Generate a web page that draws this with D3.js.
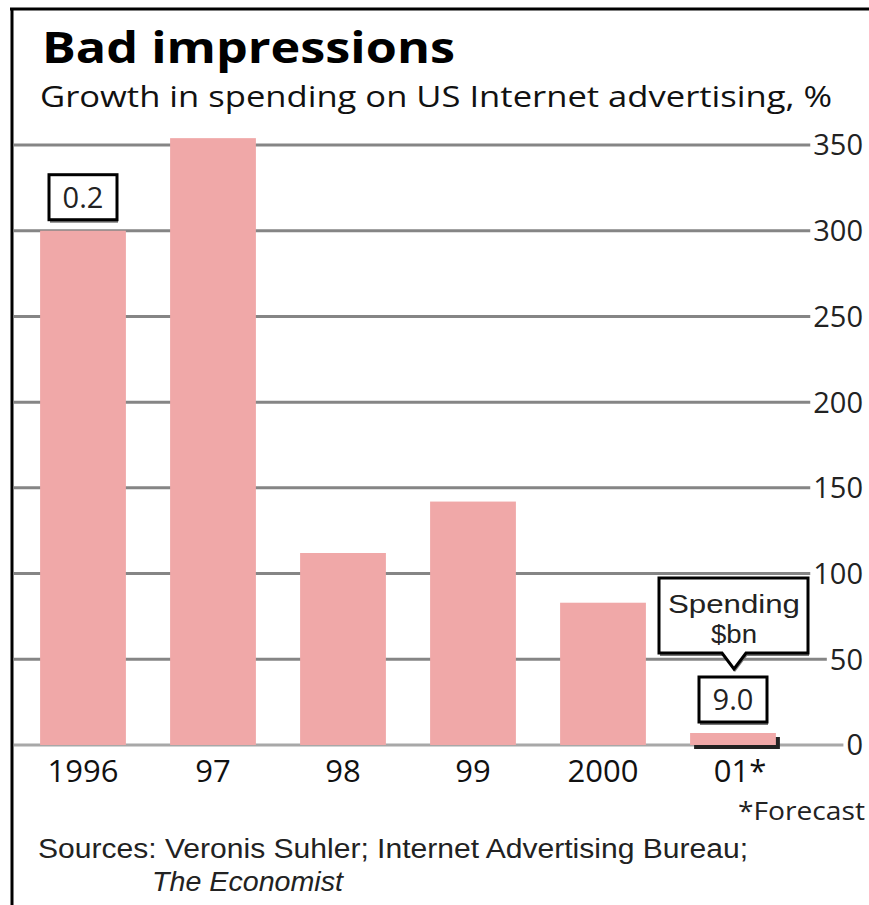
<!DOCTYPE html>
<html>
<head>
<meta charset="utf-8">
<script src="https://cdn.jsdelivr.net/npm/d3@7"></script>
<style>
  body { margin: 0; background: #fff; }
  svg { display: block; font-family: "Open Sans", sans-serif; }
</style>
</head>
<body>
<svg id="chart"></svg>
<script>
// Data
const years = ["1996", "97", "98", "99", "2000", "01*"];
const growth = [300, 354, 112, 142, 83, 7];
const yTicks = [0, 50, 100, 150, 200, 250, 300, 350];
const spendingYears = ["1996", "01*"];
const spendingValues = ["0.2", "9.0"];

const width = 869;
const height = 905;
const barColor = "#f0a8a8";
const tightFont = "'Liberation Sans', Arial, sans-serif";

const svg = d3.select("#chart")
  .attr("width", width)
  .attr("height", height);

svg.append("rect")
  .attr("width", width)
  .attr("height", height)
  .attr("fill", "#fff");

// Frame lines (top and left)
svg.append("line")
  .attr("x1", 10).attr("x2", width)
  .attr("y1", 9).attr("y2", 9)
  .attr("stroke", "#000").attr("stroke-width", 3);
svg.append("line")
  .attr("x1", 12).attr("x2", 12)
  .attr("y1", 8).attr("y2", height)
  .attr("stroke", "#000").attr("stroke-width", 3);

// Helper to squeeze text to a measured width
function fitText(sel, w) {
  sel.attr("textLength", w).attr("lengthAdjust", "spacingAndGlyphs");
}

// Titles
svg.append("text")
  .attr("x", 42).attr("y", 63)
  .attr("font-size", 43).attr("font-weight", 700)
  .attr("fill", "#000")
  .text("Bad impressions")
  .call(fitText, 413);

svg.append("text")
  .attr("x", 40).attr("y", 107)
  .attr("font-size", 30)
  .attr("fill", "#111")
  .text("Growth in spending on US Internet advertising, %")
  .call(fitText, 792);

// Scales
const x = d3.scaleBand()
  .domain(years)
  .range([18, 798])
  .paddingInner(0.34)
  .paddingOuter(0.17);

const y = d3.scaleLinear()
  .domain([0, 350])
  .range([745, 145]);

// Gridlines and right-hand tick labels
const labelRight = 863;
const grid = svg.append("g");
yTicks.forEach(t => {
  const lbl = grid.append("text")
    .attr("x", labelRight)
    .attr("y", y(t))
    .attr("dy", "0.36em")
    .attr("text-anchor", "end")
    .attr("font-size", 29)
    .attr("fill", "#222")
    .text(t);
  const w = lbl.node().getComputedTextLength();
  grid.insert("line", "text")
    .attr("x1", 14)
    .attr("x2", labelRight - w - 3)
    .attr("y1", y(t)).attr("y2", y(t))
    .attr("stroke", t === 0 ? "#a8a8a8" : "#858585")
    .attr("stroke-width", 3);
});

// Shadow for the forecast bar
const last = years[years.length - 1];
const lastVal = growth[growth.length - 1];
svg.append("rect")
  .attr("x", x(last) + 4)
  .attr("y", y(lastVal) + 4)
  .attr("width", x.bandwidth())
  .attr("height", y(0) - y(lastVal))
  .attr("fill", "#222");

// Bars
svg.append("g")
  .selectAll("rect")
  .data(years)
  .join("rect")
  .attr("x", d => x(d))
  .attr("y", (d, i) => y(growth[i]))
  .attr("width", x.bandwidth())
  .attr("height", (d, i) => y(0) - y(growth[i]))
  .attr("fill", barColor);

// X-axis labels ("01" stays centred, asterisk hangs right)
svg.append("g")
  .selectAll("text")
  .data(years)
  .join("text")
  .attr("x", d => x(d) + x.bandwidth() / 2)
  .attr("dx", d => d.endsWith("*") ? 7 : 0)
  .attr("y", 782)
  .attr("text-anchor", "middle")
  .attr("font-size", 31)
  .attr("fill", "#111")
  .text(d => d);

// Spending value boxes
function valueBox(g, cx, bottom, label) {
  const w = 68, h = 45;
  g.append("rect")
    .attr("x", cx - w / 2 + 1).attr("y", bottom - h + 3)
    .attr("width", w).attr("height", h)
    .attr("fill", "#777");
  g.append("rect")
    .attr("x", cx - w / 2).attr("y", bottom - h)
    .attr("width", w).attr("height", h)
    .attr("fill", "#fff")
    .attr("stroke", "#000").attr("stroke-width", 3);
  g.append("text")
    .attr("x", cx).attr("y", bottom - h / 2)
    .attr("dy", "0.36em")
    .attr("text-anchor", "middle")
    .attr("font-size", 29)
    .attr("fill", "#222")
    .text(label);
}

const boxes = svg.append("g");
spendingYears.forEach((yr, i) => {
  const idx = years.indexOf(yr);
  const cx = x(yr) + x.bandwidth() / 2;
  valueBox(boxes, cx, y(growth[idx]) - 11, spendingValues[i]);
});

// "Spending $bn" callout above the forecast bar
const cxLast = x(last) + x.bandwidth() / 2;
const cTop = 578, cBot = 653, cL = cxLast - 74, cR = cxLast + 75;
const calloutPath = `M${cL},${cTop} H${cR} V${cBot} H${cxLast + 13} L${cxLast + 1},${cBot + 16} L${cxLast - 11},${cBot} H${cL} Z`;
svg.append("path")
  .attr("d", calloutPath)
  .attr("transform", "translate(1,3)")
  .attr("fill", "#777");
svg.append("path")
  .attr("d", calloutPath)
  .attr("fill", "#fff")
  .attr("stroke", "#000")
  .attr("stroke-width", 3)
  .attr("stroke-linejoin", "miter");
svg.append("text")
  .attr("x", cxLast + 1).attr("y", 613)
  .attr("text-anchor", "middle")
  .attr("font-family", tightFont)
  .attr("font-size", 26)
  .attr("fill", "#222")
  .text("Spending")
  .call(fitText, 132);
svg.append("text")
  .attr("x", cxLast + 1).attr("y", 643)
  .attr("text-anchor", "middle")
  .attr("font-family", tightFont)
  .attr("font-size", 26)
  .attr("fill", "#222")
  .text("$bn")
  .call(fitText, 46);

// Footnotes
svg.append("text")
  .attr("x", 865).attr("y", 820)
  .attr("text-anchor", "end")
  .attr("font-size", 26)
  .attr("fill", "#222")
  .text("*Forecast")
  .call(fitText, 127);

svg.append("text")
  .attr("x", 38).attr("y", 858)
  .attr("font-family", tightFont)
  .attr("font-size", 27)
  .attr("fill", "#222")
  .text("Sources: Veronis Suhler; Internet Advertising Bureau;")
  .call(fitText, 710);

svg.append("text")
  .attr("x", 152).attr("y", 891)
  .attr("font-family", tightFont)
  .attr("font-size", 27)
  .attr("font-style", "italic")
  .attr("fill", "#222")
  .text("The Economist")
  .call(fitText, 191);
</script>
</body>
</html>
